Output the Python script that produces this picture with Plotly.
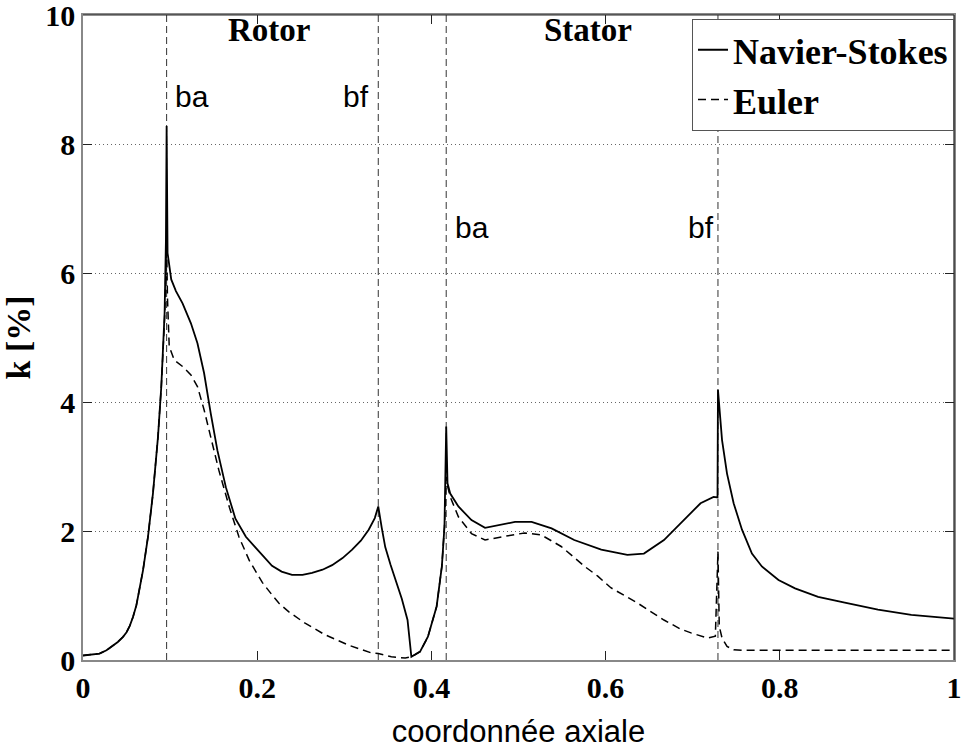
import plotly.graph_objects as go

# Navier-Stokes (solid)
x_ns = [0.0, 0.01, 0.019, 0.027, 0.034, 0.04, 0.046, 0.05, 0.0537, 0.0575, 0.0613, 0.0689,
        0.0746, 0.0803, 0.0861, 0.0899, 0.0937, 0.0952, 0.096, 0.0971, 0.1013, 0.1067,
        0.1143, 0.1239, 0.1314, 0.139, 0.1467, 0.1543, 0.164, 0.175, 0.187, 0.2, 0.208,
        0.217, 0.228, 0.24, 0.252, 0.263, 0.275, 0.286, 0.298, 0.309, 0.319, 0.328, 0.335,
        0.339, 0.343, 0.347, 0.353, 0.359, 0.366, 0.3726, 0.377, 0.387, 0.396, 0.406,
        0.412, 0.415, 0.417, 0.4185, 0.4216, 0.431, 0.446, 0.4616, 0.477, 0.496, 0.515,
        0.538, 0.564, 0.595, 0.625, 0.644, 0.667, 0.69, 0.709, 0.724, 0.7285, 0.729,
        0.7337, 0.7394, 0.747, 0.7566, 0.768, 0.7794, 0.7985, 0.8175, 0.844, 0.8746,
        0.9127, 0.951, 1.0]
y_ns = [0.07, 0.08, 0.10, 0.15, 0.22, 0.28, 0.36, 0.43, 0.53, 0.67, 0.85, 1.39,
        1.91, 2.58, 3.46, 4.24, 5.38, 6.5, 8.28, 6.31, 5.9, 5.72,
        5.53, 5.22, 4.91, 4.45, 3.82, 3.25, 2.68, 2.19, 1.91, 1.72, 1.6,
        1.46, 1.37, 1.32, 1.32, 1.35, 1.40, 1.47, 1.58, 1.71, 1.85, 2.02, 2.2,
        2.38, 2.05, 1.75, 1.48, 1.24, 0.95, 0.62, 0.05, 0.13, 0.36, 0.83,
        1.45, 2.07, 3.62, 2.74, 2.58, 2.38, 2.17, 2.05, 2.09, 2.14, 2.14,
        2.04, 1.86, 1.71, 1.63, 1.65, 1.86, 2.17, 2.43, 2.53, 2.52, 4.19,
        3.41, 2.89, 2.43, 2.02, 1.65, 1.45, 1.24, 1.11, 0.98, 0.89,
        0.78, 0.70, 0.64]

# Euler (dashed)
x_eu = [0.0, 0.01, 0.019, 0.027, 0.034, 0.04, 0.046, 0.05, 0.0537, 0.0575, 0.0613, 0.0689,
        0.0746, 0.0803, 0.0861, 0.0899, 0.0937, 0.0952, 0.096, 0.097, 0.099, 0.1048,
        0.1143, 0.1239, 0.1314, 0.139, 0.1467, 0.156, 0.168, 0.179, 0.191, 0.2, 0.206,
        0.217, 0.225, 0.236, 0.255, 0.278, 0.305, 0.331, 0.339, 0.354, 0.37, 0.377, 0.387,
        0.396, 0.406, 0.412, 0.415, 0.417, 0.4185, 0.4216, 0.431, 0.446, 0.4616, 0.481,
        0.507, 0.526, 0.549, 0.576, 0.591, 0.606, 0.637, 0.667, 0.686, 0.698, 0.717,
        0.726, 0.729, 0.7305, 0.7337, 0.7394, 0.747, 0.76, 0.8, 0.9, 1.0]
y_eu = [0.07, 0.08, 0.10, 0.15, 0.22, 0.28, 0.36, 0.43, 0.53, 0.67, 0.85, 1.39,
        1.91, 2.58, 3.46, 4.24, 5.3, 5.9, 6.42, 5.6, 4.86, 4.65,
        4.55, 4.42, 4.24, 3.88, 3.46, 2.94, 2.37, 1.91, 1.54, 1.34, 1.2,
        1.01, 0.88, 0.75, 0.57, 0.39, 0.23, 0.11, 0.10, 0.05, 0.03, 0.05, 0.13,
        0.36, 0.83, 1.45, 2.07, 2.84, 2.7, 2.53, 2.22, 1.96, 1.86, 1.91,
        1.97, 1.94, 1.76, 1.45, 1.3, 1.12, 0.88, 0.62, 0.48, 0.42, 0.34,
        0.37, 1.68, 0.52, 0.34, 0.21, 0.16, 0.15, 0.15, 0.15, 0.15]

blade_edges = [0.096, 0.339, 0.417, 0.729]
edge_labels = ["ba", "bf", "ba", "bf"]
edge_label_x = [0.125, 0.314, 0.447, 0.709]
edge_label_y = [8.73, 8.73, 6.7, 6.7]
region_labels = ["Rotor", "Stator"]
region_label_x = [0.2137, 0.58]
region_label_y = [9.77, 9.77]

x_ticks = [0, 0.2, 0.4, 0.6, 0.8, 1]
x_ticktext = ["0", "0.2", "0.4", "0.6", "0.8", "1"]
y_ticks = [0, 2, 4, 6, 8, 10]
y_ticktext = ["0", "2", "4", "6", "8", "10"]

serif_bold = dict(family="Liberation Serif", size=30, color="black", weight="bold")

fig = go.Figure()
fig.add_trace(go.Scatter(x=x_ns, y=y_ns, mode="lines", name="Navier-Stokes",
                         line=dict(color="black", width=1.8)))
fig.add_trace(go.Scatter(x=x_eu, y=y_eu, mode="lines", name="Euler",
                         line=dict(color="black", width=1.5, dash="8px,5px")))

for xe in blade_edges:
    fig.add_shape(type="line", xref="x", yref="paper", x0=xe, x1=xe, y0=0, y1=1,
                  line=dict(color="#333", width=1, dash="7px,4px"), layer="below")

# darker top/right frame
fig.add_shape(type="line", xref="paper", yref="paper", x0=0, x1=1, y0=1, y1=1,
              line=dict(color="#222", width=1.2))
fig.add_shape(type="line", xref="paper", yref="paper", x0=1, x1=1, y0=0, y1=1,
              line=dict(color="#222", width=1.2))

for t, xx, yy in zip(edge_labels, edge_label_x, edge_label_y):
    fig.add_annotation(x=xx, y=yy, text=t, showarrow=False,
                       font=dict(family="Liberation Sans", size=30, color="black"))
for t, xx, yy in zip(region_labels, region_label_x, region_label_y):
    fig.add_annotation(x=xx, y=yy, text=t, showarrow=False,
                       font=dict(family="Liberation Serif", size=33, color="black", weight="bold"))

fig.update_layout(
    width=963, height=751,
    margin=dict(l=83, r=9, t=15, b=91, autoexpand=False),
    paper_bgcolor="white", plot_bgcolor="white",
    showlegend=True,
    legend=dict(x=1, y=0.994, xanchor="right", yanchor="top",
                bgcolor="white", bordercolor="#555", borderwidth=1,
                font=dict(family="Liberation Serif", size=36, color="black", weight="bold"),
                itemwidth=30, tracegroupgap=0),
    xaxis=dict(range=[0, 1], tickvals=x_ticks, ticktext=x_ticktext, automargin=False,
               ticks="inside", ticklen=9, tickcolor="#222", showline=True,
               linecolor="#888", linewidth=1.5, mirror="ticks", showgrid=False,
               zeroline=False, tickfont=serif_bold, ticklabeloverflow="allow",
               title=dict(text="coordonnée axiale", standoff=18,
                          font=dict(family="Liberation Sans", size=31, color="black"))),
    yaxis=dict(range=[0, 10], tickvals=y_ticks, ticktext=y_ticktext, automargin=False,
               ticks="inside", ticklen=9, tickcolor="#222", showline=True,
               linecolor="#888", linewidth=1.5, mirror="ticks", showgrid=True,
               gridcolor="#666", griddash="1px,3px", gridwidth=1,
               zeroline=False, tickfont=serif_bold, ticklabeloverflow="allow",
               title=dict(text="k [%]", standoff=8,
                          font=dict(family="Liberation Serif", size=34, color="black", weight="bold"))),
)

fig.write_html("out.html")
